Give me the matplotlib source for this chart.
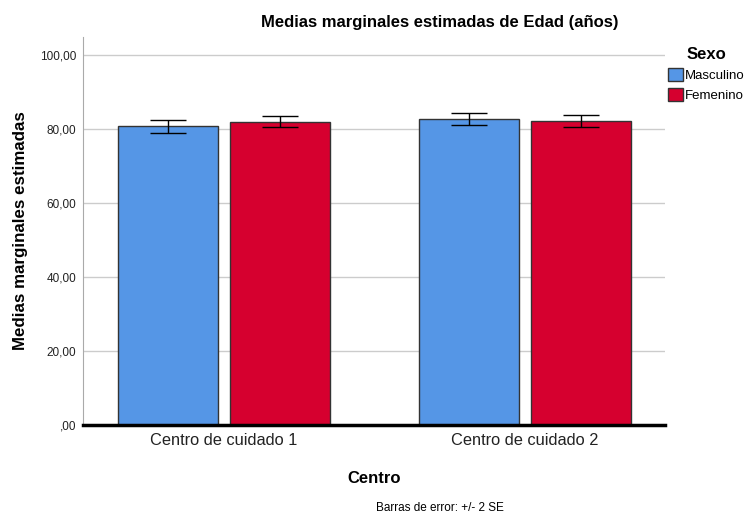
import matplotlib.pyplot as plt
import numpy as np

plt.rcParams["font.family"] = ["Liberation Sans", "DejaVu Sans"]

centros = ["Centro de cuidado 1", "Centro de cuidado 2"]
sexos = ["Masculino", "Femenino"]
colores = ["#5596e6", "#d6002f"]

medias = {
    "Masculino": [80.8, 82.8],
    "Femenino": [82.1, 82.2],
}
# 2 SE half-width of each error bar
errores = {
    "Masculino": [1.75, 1.5],
    "Femenino": [1.45, 1.65],
}

fig = plt.figure(figsize=(7.47, 5.15), dpi=100)
ax = fig.add_axes([83 / 747, 1 - 425 / 515, (665 - 83) / 747, (425 - 37) / 515])

x = np.arange(len(centros))
width = 0.332
offsets = [-0.186, 0.186]
for sexo, color, off in zip(sexos, colores, offsets):
    ax.bar(x + off, medias[sexo], width, color=color, edgecolor="#333333",
           linewidth=1.0, label=sexo, zorder=2)
    ax.errorbar(x + off, medias[sexo], yerr=errores[sexo], fmt="none",
                ecolor="black", elinewidth=1.0, capsize=13, capthick=1.0, zorder=3)

ax.set_xlim(-0.468, 1.465)
ax.set_ylim(0, 105)
ax.set_yticks([0, 20, 40, 60, 80, 100])
ax.set_yticklabels([",00", "20,00", "40,00", "60,00", "80,00", "100,00"], fontsize=8.5, color="#222222")
ax.set_xticks(x)
ax.set_xticklabels(centros, fontsize=11.8, color="#222222")
ax.tick_params(axis="x", length=0, pad=6)
ax.tick_params(axis="y", length=0, pad=5)

ax.grid(axis="y", color="#cccccc", linewidth=1.0, zorder=0)
ax.set_axisbelow(True)
for s in ["top", "right"]:
    ax.spines[s].set_visible(False)
ax.spines["left"].set_color("#aaaaaa")
ax.spines["bottom"].set_color("black")
ax.spines["bottom"].set_linewidth(2.5)

ax.yaxis.set_label_coords((28 - 83) / 582, 0.5)
ax.set_ylabel("Medias marginales estimadas", fontsize=12.2, fontweight="bold")
ax.set_xlabel("Centro", fontsize=12, fontweight="bold", labelpad=16)

fig.text(440 / 747, 1 - 22 / 515, "Medias marginales estimadas de Edad (años)",
         ha="center", va="center", fontsize=12, fontweight="bold")
fig.text(440 / 747, 1 - 508 / 515, "Barras de error: +/- 2 SE",
         ha="center", va="center", fontsize=8.5)

leg = fig.legend(loc="upper left", bbox_to_anchor=(663 / 747, 1 - 42 / 515),
                 title="Sexo", frameon=False, fontsize=9.5, handlelength=1.1,
                 handleheight=1.1, handletextpad=0.15, labelspacing=0.45,
                 borderaxespad=0)
leg.get_title().set_fontweight("bold")
leg.get_title().set_fontsize(12)

fig.savefig("out.png", dpi=100)
